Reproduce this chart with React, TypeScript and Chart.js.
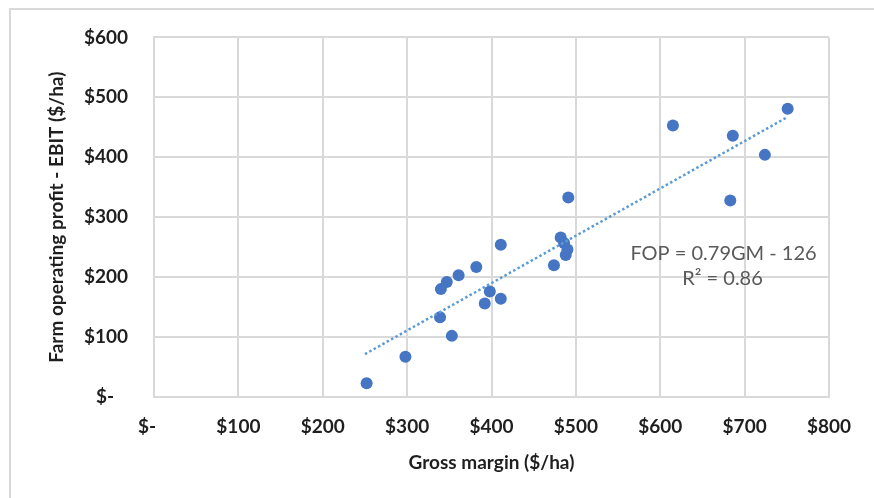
import React, { useEffect, useRef } from "react";
import { Chart, registerables } from "chart.js";

Chart.register(...registerables);

// Values
const grossMargin = [252, 298, 353, 339, 340, 347, 361, 382, 411, 398, 392, 411, 474, 482, 486, 490, 488, 491, 615, 686, 751, 724, 683];
const operatingProfit = [23, 67, 102, 133, 180, 192, 203, 217, 254, 176, 156, 164, 220, 266, 257, 246, 237, 333, 453, 436, 481, 404, 328];

// Trend line end points (from FOP = 0.79GM - 126)
const trendGM = [250, 750];
const trendFOP = [71.5, 466.5];

const xTickValues = [0, 100, 200, 300, 400, 500, 600, 700, 800];
const yTickValues = [0, 100, 200, 300, 400, 500, 600];

const equationLines = ["FOP = 0.79GM - 126", "R\u00B2 = 0.86"];
const xTitle = "Gross margin ($/ha)";
const yTitle = "Farm operating profit - EBIT ($/ha)";

const FONT = "Lato, 'Liberation Sans', sans-serif";

function money(v: number): string {
  return v === 0 ? "$-   " : "$" + v;
}

const decorPlugin = {
  id: "decor",
  beforeDraw(chart: any) {
    const { ctx, width, height } = chart;
    ctx.save();
    ctx.fillStyle = "#ffffff";
    ctx.fillRect(0, 0, width, height);
    ctx.strokeStyle = "#d9d9d9";
    ctx.lineWidth = 2;
    ctx.beginPath();
    ctx.moveTo(10, height);
    ctx.lineTo(10, 9);
    ctx.lineTo(width, 9);
    ctx.stroke();
    ctx.restore();
  },
  afterDatasetsDraw(chart: any) {
    const { ctx } = chart;
    const xs = chart.scales.x;
    const ys = chart.scales.y;
    ctx.save();
    ctx.fillStyle = "#595959";
    ctx.font = `20px ${FONT}`;
    ctx.textAlign = "center";
    ctx.textBaseline = "middle";
    const cx = xs.getPixelForValue(675);
    ctx.fillText(equationLines[0], cx, ys.getPixelForValue(240));
    ctx.fillText(equationLines[1], cx - 1, ys.getPixelForValue(197));
    ctx.restore();
  },
};

export default function App() {
  const canvasRef = useRef<HTMLCanvasElement | null>(null);

  useEffect(() => {
    if (!canvasRef.current) return;
    const points = grossMargin.map((x, i) => ({ x, y: operatingProfit[i] }));
    const trend = trendGM.map((x, i) => ({ x, y: trendFOP[i] }));
    const gridColor = "#d9d9d9";
    const tickColor = "#1f1f1f";

    const chart = new Chart(canvasRef.current, {
      type: "scatter",
      data: {
        datasets: [
          {
            type: "line",
            label: "Trend",
            data: trend,
            borderColor: "#5b9bd5",
            borderWidth: 2.5,
            borderDash: [2.5, 2.5],
            pointRadius: 0,
            fill: false,
            order: 0,
          } as any,
          {
            label: "Farms",
            data: points,
            backgroundColor: "#4675c4",
            borderWidth: 0,
            pointRadius: 6,
            order: 1,
          },
        ],
      },
      options: {
        animation: false,
        responsive: true,
        maintainAspectRatio: false,
        layout: { padding: { top: 33, right: 45, left: 0, bottom: 0 } },
        plugins: {
          legend: { display: false },
          tooltip: { enabled: false },
        },
        scales: {
          x: {
            type: "linear",
            position: "bottom",
            min: 0,
            max: 800,
            afterBuildTicks: (s: any) => {
              s.ticks = xTickValues.map((v) => ({ value: v }));
            },
            ticks: {
              callback: (v: any) => money(Number(v)),
              font: { family: FONT, size: 19, weight: "bold" },
              color: tickColor,
              padding: 18.5,
              maxRotation: 0,
              autoSkip: false,
            },
            grid: { color: gridColor, lineWidth: 2, drawTicks: false },
            border: { color: gridColor, width: 2 },
            title: {
              display: true,
              text: xTitle,
              font: { family: FONT, size: 19, weight: "bold" },
              color: tickColor,
              padding: { top: 0, bottom: 23.5 },
            },
            afterFit: (s: any) => {
              s.height = 101;
            },
          },
          y: {
            type: "linear",
            min: 0,
            max: 600,
            afterBuildTicks: (s: any) => {
              s.ticks = yTickValues.map((v) => ({ value: v }));
            },
            ticks: {
              callback: (v: any) => money(Number(v)),
              font: { family: FONT, size: 19, weight: "bold" },
              color: tickColor,
              padding: 26,
              autoSkip: false,
            },
            grid: { color: gridColor, lineWidth: 2, drawTicks: false },
            border: { color: gridColor, width: 2 },
            title: {
              display: true,
              text: yTitle,
              font: { family: FONT, size: 19, weight: "bold" },
              color: tickColor,
              padding: { top: 45.5, bottom: 0 },
            },
            afterFit: (s: any) => {
              s.width = 154;
            },
          },
        },
      },
      plugins: [decorPlugin],
    });

    return () => chart.destroy();
  }, []);

  return (
    <div style={{ position: "absolute", left: 0, top: 0, width: 874, height: 498 }}>
      <canvas ref={canvasRef} />
    </div>
  );
}
